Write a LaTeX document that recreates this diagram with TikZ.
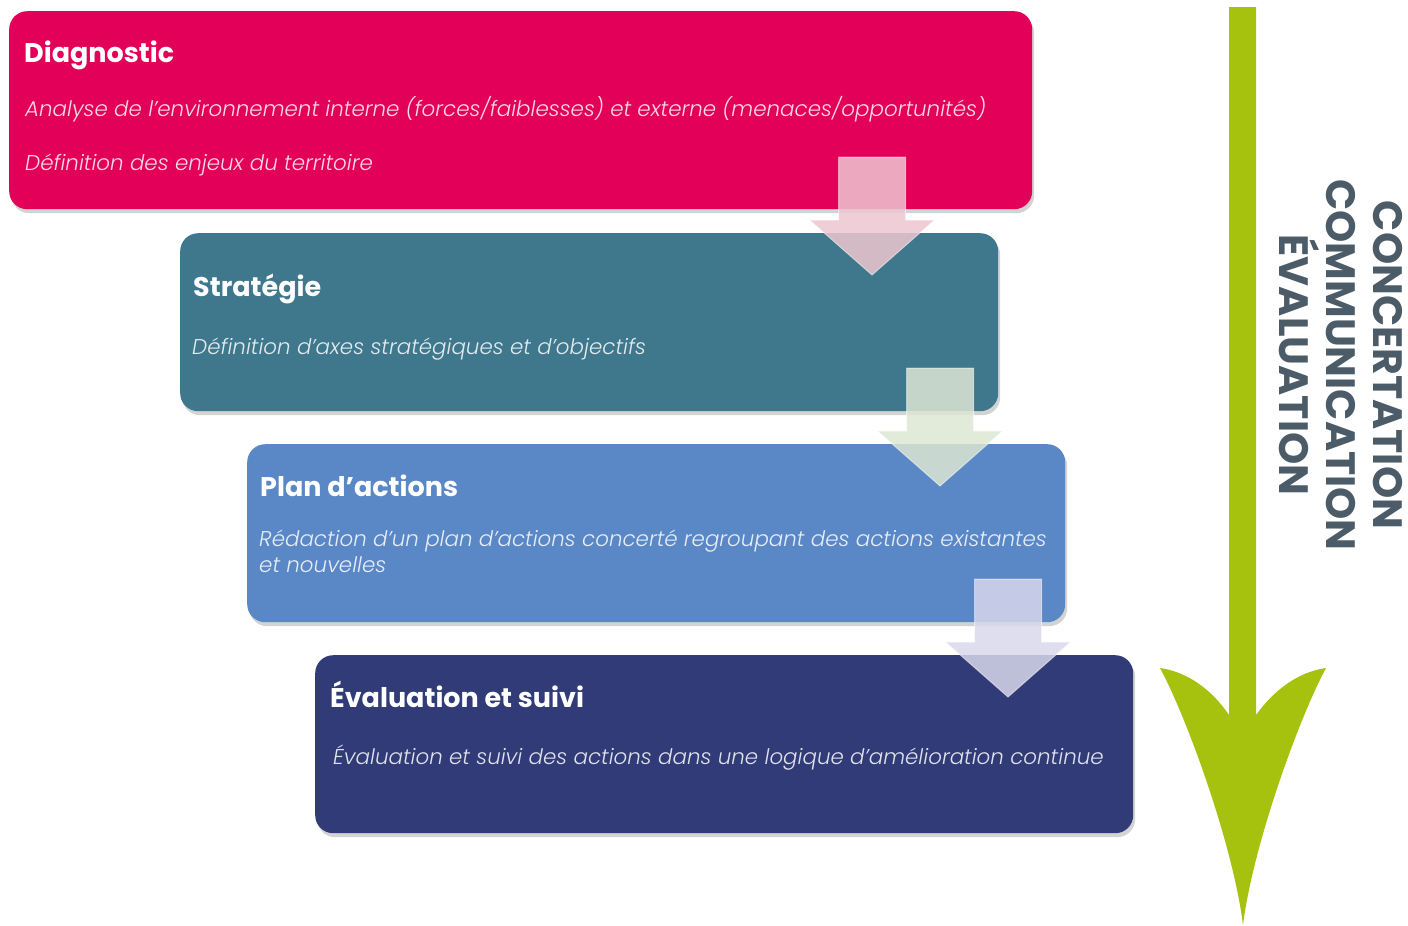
\documentclass[tikz,border=0pt]{standalone}
\usepackage{fontspec}
\setmainfont{Poppins}[ItalicFont={Poppins Light Italic}]
\usetikzlibrary{shadows}

\definecolor{diagcol}{HTML}{E30059}
\definecolor{stratcol}{HTML}{3F788C}
\definecolor{plancol}{HTML}{5A87C6}
\definecolor{evalcol}{HTML}{303B78}
\definecolor{arrowpink}{HTML}{EDC6D0}
\definecolor{arrowgreen}{HTML}{DDE6D4}
\definecolor{arrowlav}{HTML}{D8D8EC}
\definecolor{axisgreen}{HTML}{A7C10F}
\definecolor{slate}{HTML}{4B5B67}

\tikzset{
  stage/.style={rectangle, rounded corners=18pt, anchor=north west, inner sep=0pt,
    minimum width=#1, minimum height=178pt,
    drop shadow={opacity=0.35, shadow xshift=2pt, shadow yshift=-4pt}},
  stagetitle/.style={anchor=base west, inner sep=0pt, text=white,
    font=\fontsize{27}{32}\selectfont\bfseries},
  stagetext/.style={anchor=base west, inner sep=0pt, text=white, text opacity=0.85,
    align=left, font=\fontsize{21.4}{26}\selectfont\itshape},
  sidelabel/.style={text=slate, align=center, inner sep=0pt,
    font=\fontsize{41}{47}\selectfont\bfseries}
}

\begin{document}
\begin{tikzpicture}[x=1pt, y=-1pt]
  \useasboundingbox (0,0) rectangle (1408,926);

  % stages
  \node[stage=1023pt, fill=diagcol, minimum height=198pt] (diag) at (9,11) {};
  \node[stage=818pt,  fill=stratcol] (strat) at (180,233) {};
  \node[stage=818pt,  fill=plancol]  (plan)  at (247,444) {};
  \node[stage=818pt,  fill=evalcol]  (eval)  at (315,655) {};

  \node[stagetitle] (diagT) at (24,62) {Diagnostic};
  \node[stagetext]  (diagA) at (25,116) {Analyse de l'environnement interne (forces/faiblesses) et externe (menaces/opportunités)};
  \node[stagetext]  (diagB) at (25,170) {Définition des enjeux du territoire};

  \node[stagetitle] (stratT) at (193,296) {Stratégie};
  \node[stagetext]  (stratA) at (192,354) {Définition d'axes stratégiques et d'objectifs};

  \node[stagetitle] (planT) at (260,496) {Plan d’actions};
  \node[stagetext]  (planA) at (259,572) {Rédaction d'un plan d'actions concerté regroupant des actions existantes\\et nouvelles};

  \node[stagetitle] (evalT) at (330,707) {Évaluation et suivi};
  \node[stagetext]  (evalA) at (333,764) {Évaluation et suivi des actions dans une logique d'amélioration continue};

  % block arrows between stages
  \foreach \ax/\ay/\ac in {872/157/arrowpink, 940/368/arrowgreen, 1008/579/arrowlav}
    \filldraw[fill=\ac, fill opacity=0.85, draw=white, draw opacity=0.5, line width=1pt]
      (\ax-33.5,\ay) -- (\ax+33.5,\ay) -- (\ax+33.5,\ay+63) -- (\ax+62.5,\ay+63)
      -- (\ax,\ay+118) -- (\ax-62.5,\ay+63) -- (\ax-33.5,\ay+63) -- cycle;

  % green axis
  \fill[axisgreen] (1229,7) -- (1256,7) -- (1256,715)
    .. controls (1274,690) and (1298,672) .. (1326,668)
    .. controls (1299,718) and (1253,845) .. (1243,925)
    .. controls (1233,845) and (1187,718) .. (1160,668)
    .. controls (1188,672) and (1212,690) .. (1229,715) -- cycle;

  \node[sidelabel, rotate=-90] (themes) at (1341,365) {CONCERTATION\\COMMUNICATION\\ÉVALUATION};
\end{tikzpicture}
\end{document}
